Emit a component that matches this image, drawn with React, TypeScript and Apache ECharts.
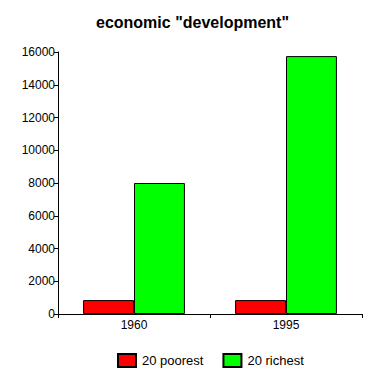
import React, { useEffect, useRef } from "react";
import * as echarts from "echarts";

const categories = ["1960", "1995"];
const poorest = [850, 850];
const richest = [8000, 15750];
const seriesNames = ["20 poorest", "20 richest"];

export default function App() {
  const ref = useRef<HTMLDivElement>(null);
  useEffect(() => {
    if (!ref.current) return;
    const chart = echarts.init(ref.current, null, { renderer: "svg" });
    const font = "Liberation Sans, Arial, sans-serif";
    chart.setOption({
      animation: false,
      backgroundColor: "#ffffff",
      title: {
        text: 'economic "development"',
        left: "center",
        top: 9,
        textStyle: { fontFamily: font, fontSize: 16, fontWeight: "bold", color: "#000" },
      },
      legend: {
        top: 353,
        left: 117,
        padding: 0,
        itemWidth: 18,
        itemHeight: 13,
        itemGap: 19,
        icon: "rect",
        textStyle: { fontFamily: font, fontSize: 13, color: "#000", padding: [0, 0, 0, 1] },
        data: seriesNames,
      },
      grid: { left: 58, right: 23, top: 52, bottom: 65 },
      xAxis: {
        type: "category",
        data: categories,
        axisLine: { lineStyle: { color: "#000", width: 1 } },
        axisTick: { show: true, length: 4, lineStyle: { color: "#000" } },
        axisLabel: { fontFamily: font, fontSize: 12, color: "#000", margin: 5 },
      },
      yAxis: {
        type: "value",
        min: 0,
        max: 16000,
        interval: 2000,
        axisLine: { show: true, lineStyle: { color: "#000", width: 1 } },
        axisTick: { show: true, length: 4, lineStyle: { color: "#000" } },
        axisLabel: {
          fontFamily: font,
          fontSize: 12,
          color: "#000",
          margin: 3,
          formatter: (v: number) => String(v),
        },
        splitLine: { show: false },
      },
      series: [
        {
          name: seriesNames[0],
          type: "bar",
          data: poorest,
          barGap: "0%",
          barCategoryGap: "33%",
          itemStyle: { color: "#ff0000", borderColor: "#000", borderWidth: 1 },
        },
        {
          name: seriesNames[1],
          type: "bar",
          data: richest,
          barGap: "0%",
          barCategoryGap: "33%",
          itemStyle: { color: "#00ff00", borderColor: "#000", borderWidth: 1 },
        },
      ],
    });
    return () => chart.dispose();
  }, []);
  return <div ref={ref} style={{ width: 385, height: 379, position: "absolute", left: 0, top: 0 }} />;
}
